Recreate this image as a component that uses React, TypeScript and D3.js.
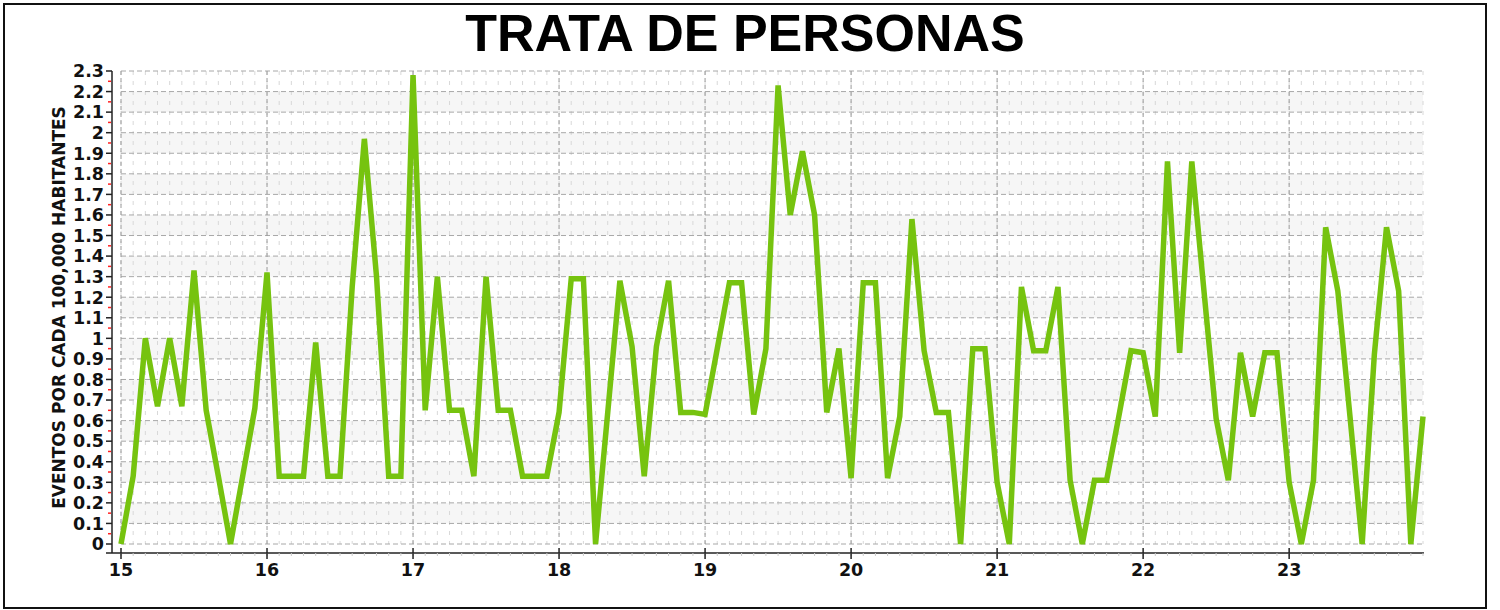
import React from 'react';
import * as d3 from 'd3';

const title = 'TRATA DE PERSONAS';
const yLabel = 'EVENTOS POR CADA 100,000 HABITANTES';
const yearLabels = ['15', '16', '17', '18', '19', '20', '21', '22', '23'];

// monthly rate, Jan..Dec of each year
const rates15 = [0, 0.33, 1.0, 0.67, 1.0, 0.67, 1.33, 0.65, 0.33, 0, 0.33, 0.66];
const rates16 = [1.32, 0.33, 0.33, 0.33, 0.98, 0.33, 0.33, 1.25, 1.97, 1.3, 0.33, 0.33];
const rates17 = [2.28, 0.65, 1.3, 0.65, 0.65, 0.33, 1.3, 0.65, 0.65, 0.33, 0.33, 0.33];
const rates18 = [0.64, 1.29, 1.29, 0, 0.64, 1.28, 0.96, 0.33, 0.96, 1.28, 0.64, 0.64];
const rates19 = [0.63, 0.95, 1.27, 1.27, 0.63, 0.95, 2.23, 1.6, 1.91, 1.6, 0.64, 0.95];
const rates20 = [0.32, 1.27, 1.27, 0.32, 0.62, 1.58, 0.94, 0.64, 0.64, 0, 0.95, 0.95];
const rates21 = [0.3, 0, 1.25, 0.94, 0.94, 1.25, 0.31, 0, 0.31, 0.31, 0.62, 0.94];
const rates22 = [0.93, 0.62, 1.86, 0.93, 1.86, 1.23, 0.61, 0.31, 0.93, 0.62, 0.93, 0.93];
const rates23 = [0.3, 0, 0.31, 1.54, 1.23, 0.62, 0, 0.92, 1.54, 1.23, 0, 0.62];

const yearlyRates = [rates15, rates16, rates17, rates18, rates19, rates20, rates21, rates22, rates23];

const W = 1500;
const H = 610;
const plot = { left: 121, right: 1423, top: 71, bottom: 544 };
const titleFont = '"Liberation Sans", Arial, sans-serif';
const axisFont = '"DejaVu Sans", sans-serif';

export default function App() {
  const points = [];
  yearlyRates.forEach((arr, yi) => {
    arr.forEach((v, m) => points.push({ t: +yearLabels[yi] + m / 12, v }));
  });
  const tMin = d3.min(points, d => d.t);
  const tMax = d3.max(points, d => d.t);

  const x = d3.scaleLinear().domain([tMin, tMax]).range([plot.left, plot.right]);
  const y = d3.scaleLinear().domain([0, 2.3]).range([plot.bottom, plot.top]);

  const yTicks = d3.range(0, 24).map(k => k / 10);
  const monthTicks = points.map(d => d.t);
  const yearTicks = yearLabels.map(s => +s);
  const fmt = d3.format('~g');

  const line = d3
    .line()
    .x(d => x(d.t))
    .y(d => y(d.v));

  const axisY = plot.bottom + 9;
  const axisX = plot.left - 9;

  return (
    <div style={{ position: 'fixed', left: 0, top: 0 }}>
      <svg width={W} height={H} style={{ display: 'block', background: '#fff' }}>
        <rect x={4} y={4} width={1482} height={604} fill="#fff" stroke="#111" strokeWidth={2} />
        <text
          x={745}
          y={51}
          textAnchor="middle"
          fontFamily={titleFont}
          fontWeight={700}
          fontSize={52}
          fill="#000"
        >
          {title}
        </text>

        {/* shaded bands */}
        {yTicks.slice(0, -1).map((v, k) =>
          k % 2 === 1 ? (
            <rect
              key={'b' + k}
              x={plot.left}
              y={y(yTicks[k + 1])}
              width={plot.right - plot.left}
              height={y(v) - y(yTicks[k + 1])}
              fill="#f6f6f6"
            />
          ) : null
        )}

        {/* month grid */}
        {monthTicks.map((t, i) => (
          <line
            key={'m' + i}
            x1={x(t)}
            x2={x(t)}
            y1={plot.top}
            y2={plot.bottom}
            stroke="#d8d8d8"
            strokeWidth={1}
            strokeDasharray="4,6"
          />
        ))}
        {/* horizontal grid */}
        {yTicks.map(v => (
          <line
            key={'h' + v}
            x1={plot.left}
            x2={plot.right}
            y1={y(v)}
            y2={y(v)}
            stroke="#a8a8a8"
            strokeWidth={1}
            strokeDasharray="5,3"
          />
        ))}
        {/* year grid */}
        {yearTicks.map(t => (
          <line
            key={'y' + t}
            x1={x(t)}
            x2={x(t)}
            y1={plot.top}
            y2={plot.bottom}
            stroke="#999"
            strokeWidth={1}
            strokeDasharray="4,3"
          />
        ))}

        <path d={line(points)} fill="none" stroke="#76c30f" strokeWidth={5.5} />

        {/* y axis */}
        <line x1={axisX} x2={axisX} y1={plot.top} y2={axisY} stroke="#222" strokeWidth={1.5} />
        {yTicks.map(v => (
          <g key={'yt' + v}>
            <line x1={axisX - 6} x2={axisX} y1={y(v)} y2={y(v)} stroke="#222" strokeWidth={1.5} />
            <text
              x={axisX - 8}
              y={y(v)}
              dy="0.36em"
              textAnchor="end"
              fontFamily={axisFont}
              fontWeight={700}
              fontSize={17.5}
              fill="#111"
            >
              {fmt(v)}
            </text>
          </g>
        ))}
        {yTicks.slice(0, -1).map(v => (
          <line
            key={'yr' + v}
            x1={axisX - 4}
            x2={axisX - 1}
            y1={y(v + 0.05)}
            y2={y(v + 0.05)}
            stroke="#f22"
            strokeWidth={1.5}
          />
        ))}
        <text
          transform={`translate(65, ${(plot.top + plot.bottom) / 2}) rotate(-90)`}
          textAnchor="middle"
          fontFamily={axisFont}
          fontWeight={700}
          fontSize={17}
          fill="#111"
        >
          {yLabel}
        </text>

        {/* x axis */}
        <line x1={axisX - 6} x2={plot.right + 1} y1={axisY} y2={axisY} stroke="#222" strokeWidth={1.5} />
        {monthTicks.map((t, i) => (
          <line key={'xm' + i} x1={x(t)} x2={x(t)} y1={axisY} y2={axisY + 3} stroke="#ccc" strokeWidth={1} />
        ))}
        {yearTicks.map((t, i) => (
          <g key={'xt' + t}>
            <line x1={x(t)} x2={x(t)} y1={axisY - 5} y2={axisY + 6} stroke="#222" strokeWidth={1.5} />
            <text
              x={x(t)}
              y={axisY + 23}
              textAnchor="middle"
              fontFamily={axisFont}
              fontWeight={700}
              fontSize={17.5}
              fill="#111"
            >
              {yearLabels[i]}
            </text>
          </g>
        ))}
      </svg>
    </div>
  );
}
